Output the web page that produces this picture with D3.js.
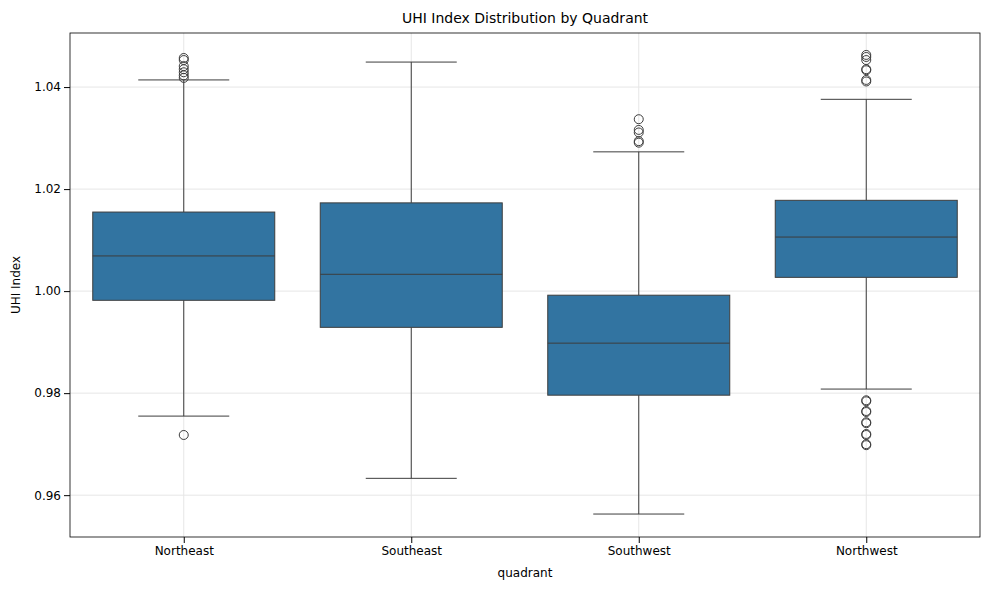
<!DOCTYPE html>
<html><head><meta charset="utf-8">
<script src="https://cdn.jsdelivr.net/npm/d3@7"></script>
<style>body{margin:0;background:#fff}text{font-family:"DejaVu Sans",sans-serif}</style>
</head><body><svg id="c" width="990" height="590"></svg>
<script>
const categories=["Northeast","Southeast","Southwest","Northwest"];
const whiskerLow=[0.9755,0.9633,0.9563,0.9808];
const q1=[0.9982,0.9929,0.9796,1.0027];
const median=[1.0069,1.0033,0.9898,1.0106];
const q3=[1.0155,1.0173,0.9992,1.0178];
const whiskerHigh=[1.0414,1.0449,1.0273,1.0376];
const outliers=[
 [1.0457,1.0453,1.0441,1.0435,1.0429,1.0423,1.0418,0.9718],
 [],
 [1.0337,1.0316,1.0311,1.0294,1.0291],
 [1.0463,1.0459,1.0453,1.0435,1.0433,1.0414,1.0411,0.9786,0.9784,0.9765,0.9763,0.9743,0.9741,0.9720,0.9718,0.9700,0.9698]
];
const yTicks=[0.96,0.98,1.00,1.02,1.04];

const svg=d3.select("#c");
const m={l:70,r:10,t:33,b:53};
const W=990-m.l-m.r,H=590-m.t-m.b;
const g=svg.append("g").attr("transform",`translate(${m.l},${m.t})`);
const x=d3.scaleBand().domain(categories).range([0,W]).paddingInner(0.2).paddingOuter(0.1);
const xc=d3.scalePoint().domain(categories).range([0,W]).padding(0.5);
const y=d3.scaleLinear().domain([0.9518,1.0506]).range([H,0]);

g.selectAll(".gy").data(yTicks).join("line").attr("x1",0).attr("x2",W)
 .attr("y1",d=>y(d)).attr("y2",d=>y(d)).attr("stroke","#e6e6e6");
g.selectAll(".gx").data(categories).join("line").attr("y1",0).attr("y2",H)
 .attr("x1",d=>xc(d)).attr("x2",d=>xc(d)).attr("stroke","#e6e6e6");

const bw=W/4*0.8;
categories.forEach((c,i)=>{
 const cx=xc(c),st="#3d3d3d";
 g.append("line").attr("x1",cx).attr("x2",cx).attr("y1",y(whiskerHigh[i])).attr("y2",y(q3[i])).attr("stroke",st);
 g.append("line").attr("x1",cx).attr("x2",cx).attr("y1",y(q1[i])).attr("y2",y(whiskerLow[i])).attr("stroke",st);
 [whiskerHigh[i],whiskerLow[i]].forEach(v=>g.append("line").attr("x1",cx-bw/4).attr("x2",cx+bw/4).attr("y1",y(v)).attr("y2",y(v)).attr("stroke",st));
 g.append("rect").attr("x",cx-bw/2).attr("width",bw).attr("y",y(q3[i])).attr("height",y(q1[i])-y(q3[i]))
  .attr("fill","#3274a1").attr("stroke",st);
 g.append("line").attr("x1",cx-bw/2).attr("x2",cx+bw/2).attr("y1",y(median[i])).attr("y2",y(median[i])).attr("stroke",st);
 outliers[i].forEach(v=>g.append("circle").attr("cx",cx).attr("cy",y(v)).attr("r",4.5).attr("fill","none").attr("stroke",st));
});

g.append("rect").attr("width",W).attr("height",H).attr("fill","none").attr("stroke","#000").attr("stroke-width",0.8);
const ya=g.append("g").call(d3.axisLeft(y).tickValues(yTicks).tickFormat(d3.format(".2f")).tickSizeOuter(0));
const xa=g.append("g").attr("transform",`translate(0,${H})`).call(d3.axisBottom(xc).tickSizeOuter(0));
[ya,xa].forEach(a=>{a.select(".domain").remove();a.selectAll("text").attr("font-size",12).attr("fill","#000");a.selectAll("line").attr("stroke","#000");});
svg.append("text").attr("x",m.l+W/2).attr("y",23).attr("text-anchor","middle").attr("font-size",14).text("UHI Index Distribution by Quadrant");
svg.append("text").attr("x",m.l+W/2).attr("y",577).attr("text-anchor","middle").attr("font-size",12).text("quadrant");
svg.append("text").attr("transform",`translate(20,${m.t+H/2}) rotate(-90)`).attr("text-anchor","middle").attr("font-size",12).text("UHI Index");
</script></body></html>
